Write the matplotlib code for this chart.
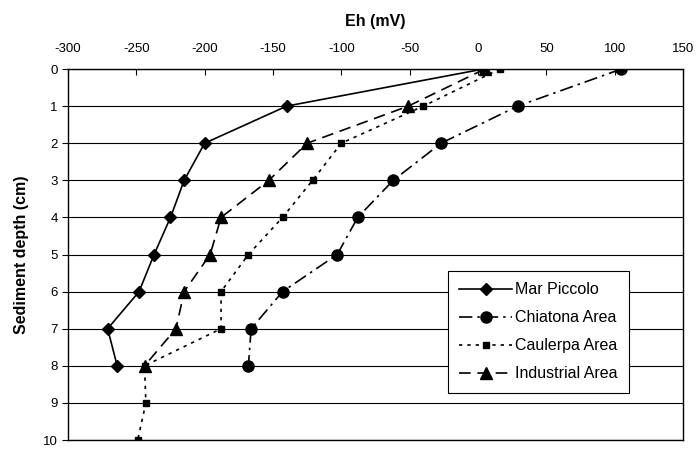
import matplotlib
matplotlib.use('Agg')
import matplotlib.pyplot as plt

plt.rcParams['font.family'] = ['Liberation Sans', 'DejaVu Sans']
plt.rcParams['axes.unicode_minus'] = False

# sediment depth (cm)
depth = [0, 1, 2, 3, 4, 5, 6, 7, 8, 9, 10]
depth_short = depth[:9]

# Eh readings (mV)
mar_piccolo = [4, -140, -200, -215, -225, -237, -248, -271, -264]
chiatona = [105, 29, -27, -62, -88, -103, -143, -166, -168]
caulerpa = [16, -40, -100, -121, -143, -168, -188, -188, -244, -243, -249]
industrial = [5, -51, -125, -153, -188, -196, -215, -221, -244]

fig = plt.figure(figsize=(6.96, 4.49), dpi=100)
ax = fig.add_axes([0.0977, 0.02, 0.8836, 0.8263])

ax.plot(mar_piccolo, depth_short, color='black', lw=1.2, ls='-',
        marker='D', ms=6, label='Mar Piccolo')
ax.plot(chiatona, depth_short, color='black', lw=1.2, ls=(0, (8, 3, 1.5, 3)),
        marker='o', ms=8, label='Chiatona Area')
ax.plot(caulerpa, depth, color='black', lw=1.2, ls=(0, (2, 3)),
        marker='s', ms=5, label='Caulerpa Area')
ax.plot(industrial, depth_short, color='black', lw=1.2, ls=(0, (7, 4)),
        marker='^', ms=8, label='Industrial Area')

ax.set_xlim(-300, 150)
ax.set_ylim(10, 0)
ax.set_xticks(range(-300, 151, 50))
ax.set_yticks(depth)
ax.xaxis.tick_top()
ax.xaxis.set_label_position('top')
ax.tick_params(axis='x', direction='in', length=4, labelsize=9.5, pad=10)
ax.tick_params(axis='y', direction='out', length=4, labelsize=9.5)

ax.grid(axis='y', color='black', lw=0.8)
ax.set_axisbelow(True)
for s in ax.spines.values():
    s.set_linewidth(1.0)

ax.set_xlabel('Eh (mV)', fontsize=11.5, fontweight='bold', labelpad=12)
ax.set_ylabel('Sediment depth (cm)', fontsize=11.5, fontweight='bold', labelpad=10)

leg = ax.legend(loc='upper left', bbox_to_anchor=(0.618, 0.4555), fontsize=11.5,
                frameon=True, fancybox=False, framealpha=1, edgecolor='black',
                handlelength=3.3, handletextpad=0.2, borderpad=0.7,
                labelspacing=0.82, borderaxespad=0)
leg.get_frame().set_linewidth(0.8)

fig.savefig('out.png', dpi=100)
